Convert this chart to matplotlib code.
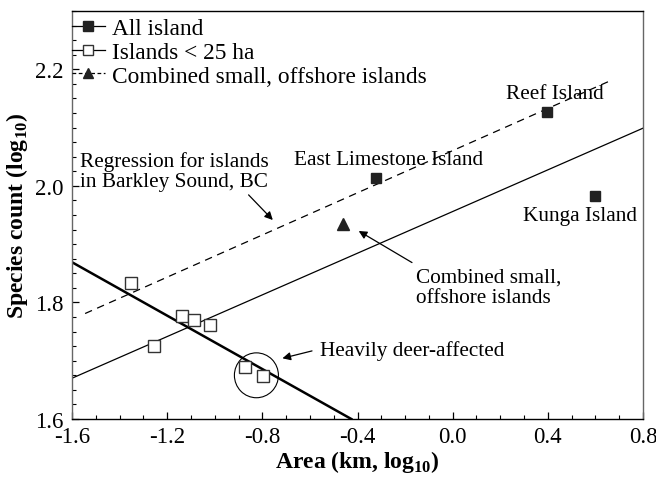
import numpy as np
import matplotlib
matplotlib.use('Agg')
import matplotlib.pyplot as plt
from matplotlib.lines import Line2D
from matplotlib.patches import Ellipse
from matplotlib.ticker import MultipleLocator

plt.rcParams['font.family'] = ['Liberation Serif', 'DejaVu Serif']
plt.rcParams['mathtext.fontset'] = 'custom'
plt.rcParams['mathtext.rm'] = 'Liberation Serif'
plt.rcParams['mathtext.bf'] = 'Liberation Serif:bold'
plt.rcParams['axes.unicode_minus'] = False

# data (log10 area, log10 species count)
all_x = [-0.321, 0.395, 0.598]
all_y = [2.013, 2.127, 1.982]
all_names = ['East Limestone Island', 'Reef Island', 'Kunga Island']

small_x = [-1.352, -1.255, -1.137, -1.088, -1.018, -0.874, -0.797]
small_y = [1.834, 1.725, 1.777, 1.770, 1.762, 1.690, 1.673]

comb_x = [-0.459]
comb_y = [1.934]

# regression lines (end points)
all_fit_x = [-1.6, 0.8]
all_fit_y = [1.670, 2.099]
small_fit_x = [-1.6, -0.426]
small_fit_y = [1.869, 1.600]
barkley_x = [-1.545, 0.655]
barkley_y = [1.781, 2.179]

fig = plt.figure(figsize=(6.56, 4.81), dpi=100)
ax = fig.add_axes([0.1098, 0.1268, 0.8704, 0.8482])

ax.plot(all_fit_x, all_fit_y, color='black', lw=0.9)
ax.plot(small_fit_x, small_fit_y, color='black', lw=1.8)
ax.plot(barkley_x, barkley_y, color='black', lw=0.9, dashes=(6, 4.5))

ax.plot(all_x, all_y, ls='none', marker='s', ms=6.5, color='#222222')
ax.plot(small_x, small_y, ls='none', marker='s', ms=8, mfc='white', mec='#333333', mew=1.0)
ax.plot(comb_x, comb_y, ls='none', marker='^', ms=8, color='#222222')

ax.add_patch(Ellipse((-0.825, 1.675), 0.185, 0.077, fill=False, ec='black', lw=0.8))

fs = 15.3
arrow = dict(arrowstyle='-|>', color='black', lw=0.9, mutation_scale=12)
ax.text(-1.566, 2.025, 'Regression for islands\nin Barkley Sound, BC', fontsize=fs,
        ha='left', va='center', linespacing=1.1)
ax.annotate('', xy=(-0.748, 1.938), xytext=(-0.866, 1.988), arrowprops=arrow)
ax.text(-0.667, 2.046, all_names[0], fontsize=fs, ha='left', va='center')
ax.text(0.224, 2.159, all_names[1], fontsize=fs, ha='left', va='center')
ax.text(0.294, 1.950, all_names[2], fontsize=fs, ha='left', va='center')
ax.text(-0.156, 1.826, 'Combined small,\noffshore islands', fontsize=fs,
        ha='left', va='center', linespacing=1.1)
ax.annotate('', xy=(-0.405, 1.925), xytext=(-0.161, 1.866), arrowprops=arrow)
ax.text(-0.559, 1.718, 'Heavily deer-affected', fontsize=fs, ha='left', va='center')
ax.annotate('', xy=(-0.727, 1.703), xytext=(-0.580, 1.718), arrowprops=arrow)

ax.set_xlim(-1.6, 0.8)
ax.set_ylim(1.6, 2.3)
ax.set_xticks([-1.6, -1.2, -0.8, -0.4, 0.0, 0.4, 0.8])
ax.set_yticks([1.6, 1.8, 2.0, 2.2])
ax.xaxis.set_minor_locator(MultipleLocator(0.1))
ax.yaxis.set_minor_locator(MultipleLocator(0.025))
ax.tick_params(which='major', direction='in', length=5, width=0.9, labelsize=16.5)
ax.tick_params(axis='y', pad=6)
ax.tick_params(axis='x', pad=5)
ax.tick_params(which='minor', direction='in', length=3, width=0.8)
ax.tick_params(which='both', top=False, right=False)
for s in ['left', 'right']:
    ax.spines[s].set_color('#666666')
for s in ax.spines.values():
    s.set_linewidth(1.0)

ax.set_xlabel(r'Area (km, log$_{\mathbf{10}}$)', fontsize=17, fontweight='bold', labelpad=1)
ax.set_ylabel(r'Species count (log$_{\mathbf{10}}$)', fontsize=17, fontweight='bold', labelpad=4)

handles = [
    Line2D([], [], color='black', lw=0.9, marker='s', ms=6.5, mfc='#222222', mec='#222222'),
    Line2D([], [], color='black', lw=0.9, marker='s', ms=7, mfc='white', mec='#333333'),
    Line2D([], [], color='black', lw=0.9, ls='--', dashes=(3, 2), marker='^', ms=7,
           mfc='#222222', mec='#222222'),
]
labels = ['All island', 'Islands < 25 ha', 'Combined small, offshore islands']
ax.legend(handles, labels, loc='upper left', bbox_to_anchor=(0.0, 0.983), frameon=False,
          fontsize=16.8, handlelength=1.4, handletextpad=0.3, labelspacing=0.1,
          borderaxespad=0.0, borderpad=0.0)

fig.savefig('out.png', dpi=100)
